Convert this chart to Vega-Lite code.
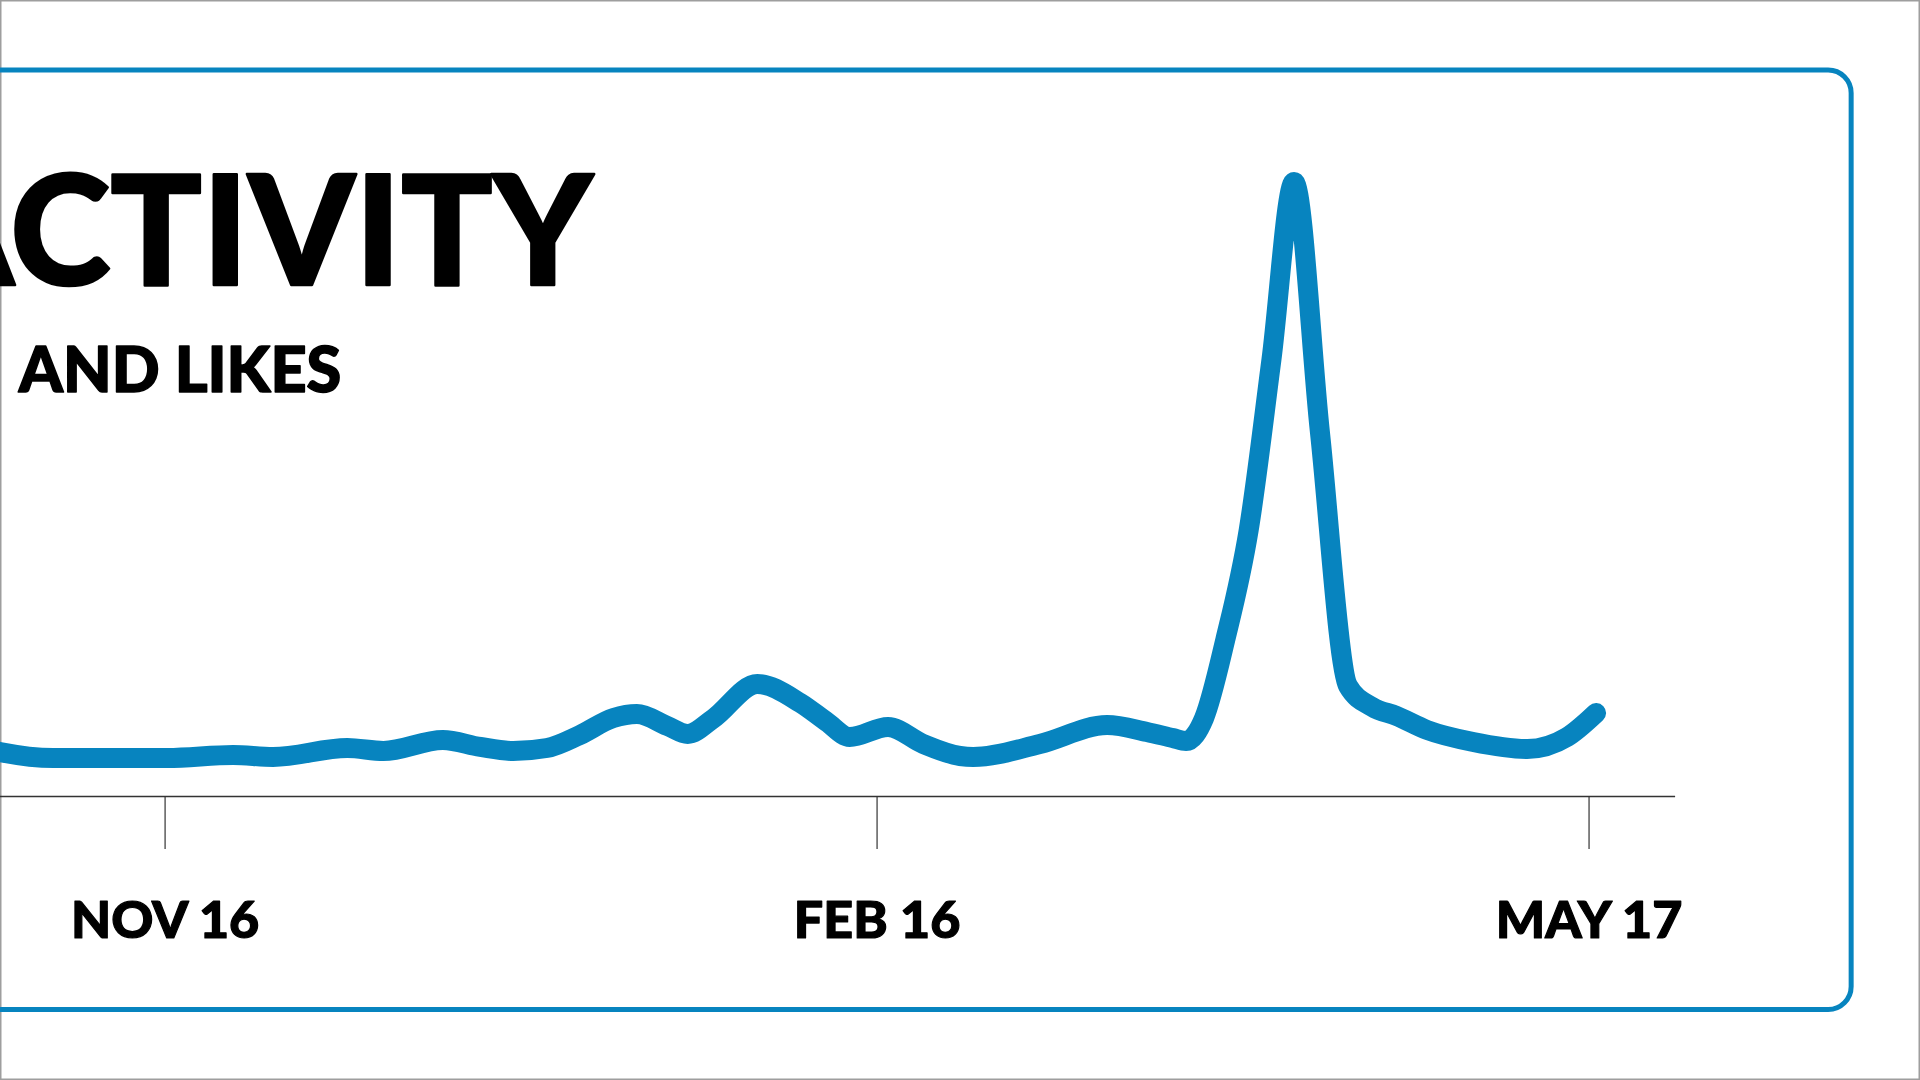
{
  "$schema": "https://vega.github.io/schema/vega-lite/v6.json",
  "width": 1920,
  "height": 1080,
  "autosize": {"type": "none"},
  "padding": 0,
  "background": "white",
  "config": {"view": {"stroke": "#9e9e9e", "strokeWidth": 3}},
  "datasets": {
    "activity": [
      {"day": -24.9, "value": 83.9},
      {"day": -21.1, "value": 72.5},
      {"day": -14.3, "value": 62.7},
      {"day": -7.0, "value": 62.7},
      {"day": 0.3, "value": 62.7},
      {"day": 8.7, "value": 67.6},
      {"day": 13.8, "value": 64.4},
      {"day": 23.3, "value": 79.0},
      {"day": 27.9, "value": 74.1},
      {"day": 35.5, "value": 92.1},
      {"day": 40.3, "value": 80.7},
      {"day": 44.5, "value": 74.1},
      {"day": 48.8, "value": 79.0},
      {"day": 53.0, "value": 100.2},
      {"day": 57.3, "value": 127.9},
      {"day": 60.3, "value": 134.4},
      {"day": 64.2, "value": 114.9},
      {"day": 66.8, "value": 101.9},
      {"day": 70.0, "value": 126.3},
      {"day": 75.7, "value": 183.3},
      {"day": 81.2, "value": 152.4},
      {"day": 84.6, "value": 121.4},
      {"day": 87.5, "value": 97.0},
      {"day": 92.4, "value": 113.3},
      {"day": 96.9, "value": 85.6},
      {"day": 101.6, "value": 66.0},
      {"day": 103.3, "value": 64.4},
      {"day": 111.8, "value": 85.6},
      {"day": 120.4, "value": 116.5},
      {"day": 125.5, "value": 105.1},
      {"day": 128.8, "value": 95.3},
      {"day": 130.5, "value": 90.4},
      {"day": 132.8, "value": 127.9},
      {"day": 135.5, "value": 255.0},
      {"day": 138.5, "value": 434.3},
      {"day": 141.4, "value": 711.3},
      {"day": 144.3, "value": 1001.4},
      {"day": 147.6, "value": 594.0},
      {"day": 151.2, "value": 180.0},
      {"day": 154.3, "value": 145.9},
      {"day": 157.4, "value": 131.2},
      {"day": 161.3, "value": 108.4},
      {"day": 167.2, "value": 88.8},
      {"day": 174.1, "value": 77.4},
      {"day": 179.2, "value": 97.0},
      {"day": 182.9, "value": 136.1}
    ],
    "ticks": [
      {"day": 0, "label": "NOV 16"},
      {"day": 91, "label": "FEB 16"},
      {"day": 182, "label": "MAY 17"}
    ]
  },
  "layer": [
    {
      "data": {"values": [{}]},
      "mark": {"type": "rect", "filled": false, "stroke": "#0784bf", "strokeWidth": 5, "cornerRadius": 23},
      "encoding": {
        "x": {"datum": -60, "type": "quantitative", "scale": {"domain": [-21.1, 224.3], "nice": false, "zero": false}, "axis": null},
        "x2": {"datum": 215.5},
        "y": {"datum": 1183.9, "type": "quantitative", "scale": {"domain": [-462, 1298], "nice": false, "zero": false}, "axis": null},
        "y2": {"datum": -347.1}
      }
    },
    {
      "data": {"values": [{}]},
      "mark": {"type": "rule", "stroke": "#333333", "strokeWidth": 1.5},
      "encoding": {
        "x": {"datum": -30, "type": "quantitative", "axis": null},
        "x2": {"datum": 193.0},
        "y": {"datum": 0, "type": "quantitative", "axis": null}
      }
    },
    {
      "data": {"name": "ticks"},
      "mark": {"type": "rule", "stroke": "#333333", "strokeWidth": 1.2},
      "encoding": {
        "x": {"field": "day", "type": "quantitative", "axis": null},
        "y": {"datum": 0, "type": "quantitative", "axis": null},
        "y2": {"datum": -85.6}
      }
    },
    {
      "data": {"name": "ticks"},
      "mark": {"type": "text", "font": "Lato", "fontWeight": 900, "fontSize": 52, "align": "center", "baseline": "alphabetic", "color": "#000000", "stroke": "#000000", "strokeWidth": 1.2, "strokeJoin": "round"},
      "encoding": {
        "x": {"field": "day", "type": "quantitative", "axis": null},
        "y": {"datum": -230.6, "type": "quantitative", "axis": null},
        "text": {"field": "label"}
      }
    },
    {
      "data": {"values": [{}]},
      "mark": {"type": "text", "font": "Lato", "fontWeight": 900, "fontSize": 152, "align": "left", "baseline": "alphabetic", "color": "#000000", "stroke": "#000000", "strokeWidth": 2.5, "strokeJoin": "round", "text": "ACTIVITY"},
      "encoding": {
        "x": {"datum": -33.0, "type": "quantitative", "axis": null},
        "y": {"datum": 834.0, "type": "quantitative", "axis": null}
      }
    },
    {
      "data": {"values": [{}]},
      "mark": {"type": "text", "font": "Lato", "fontWeight": 900, "fontSize": 63, "align": "left", "baseline": "alphabetic", "color": "#000000", "stroke": "#000000", "strokeWidth": 1.5, "strokeJoin": "round", "text": "AND LIKES"},
      "encoding": {
        "x": {"datum": -18.7, "type": "quantitative", "axis": null},
        "y": {"datum": 658.5, "type": "quantitative", "axis": null}
      }
    },
    {
      "data": {"name": "activity"},
      "mark": {"type": "line", "interpolate": "monotone", "stroke": "#0784bf", "strokeWidth": 20, "strokeCap": "round", "strokeJoin": "round"},
      "encoding": {
        "x": {"field": "day", "type": "quantitative", "axis": null},
        "y": {"field": "value", "type": "quantitative", "axis": null}
      }
    }
  ]
}
